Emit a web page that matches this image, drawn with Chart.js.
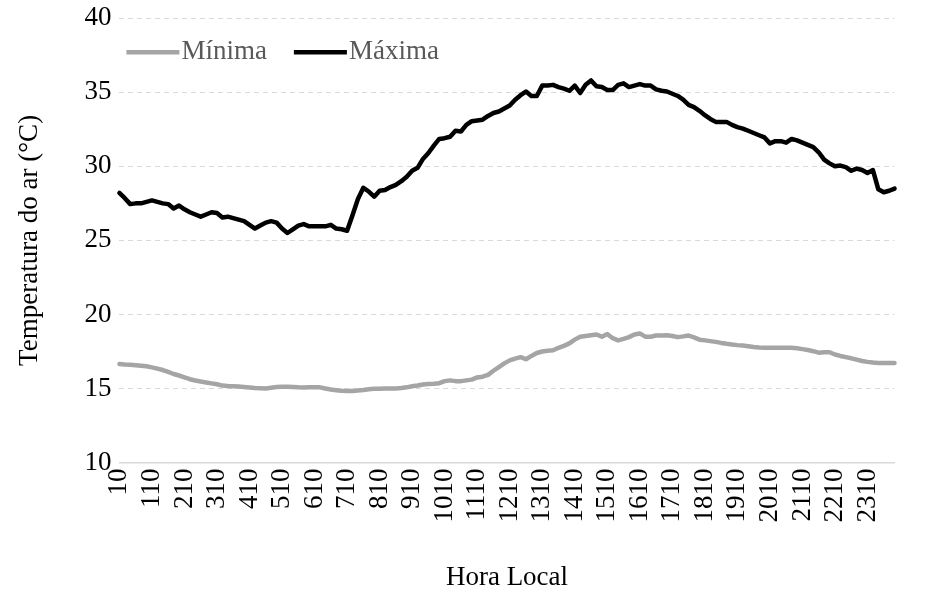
<!DOCTYPE html>
<html>
<head>
<meta charset="utf-8">
<script src="https://cdn.jsdelivr.net/npm/chart.js@4"></script>
<style>
  body { margin: 0; background: #fff; overflow: hidden; }
  #wrap { width: 929px; height: 592px; overflow: hidden; }
  #grafico { display: block; margin-top: -6px; }
</style>
</head>
<body>
<div id="wrap"><canvas id="grafico" width="933" height="598"></canvas></div>
<script>
// horas locais a cada 10 minutos: 10, 20, ..., 50, 100, 110, ... 2400
const horas = [];
for (let h = 0; h < 24; h++) {
    for (let m = 1; m <= 5; m++) horas.push(String(h * 100 + m * 10));
    horas.push(String((h + 1) * 100));
}

const minima = [
    16.65, 16.62, 16.6, 16.57, 16.54, 16.5, 16.43, 16.34, 16.25, 16.12,
    15.98, 15.88, 15.76, 15.63, 15.54, 15.47, 15.41, 15.35, 15.29, 15.2,
    15.17, 15.15, 15.13, 15.1, 15.07, 15.04, 15.02, 15.0, 15.05, 15.1,
    15.12, 15.12, 15.1, 15.08, 15.07, 15.08, 15.09, 15.08, 15.0, 14.93,
    14.88, 14.85, 14.84, 14.84, 14.86, 14.9, 14.95, 14.98, 14.99, 15.0,
    15.0, 15.01, 15.03, 15.08, 15.15, 15.2, 15.27, 15.31, 15.33, 15.36,
    15.5, 15.55, 15.5, 15.5, 15.55, 15.6, 15.75, 15.8, 15.92, 16.2,
    16.45, 16.7, 16.9, 17.02, 17.12, 16.98, 17.2, 17.4, 17.5, 17.55,
    17.58, 17.75, 17.88, 18.05, 18.3, 18.5, 18.55, 18.6, 18.65, 18.5,
    18.68, 18.4, 18.25, 18.35, 18.47, 18.65, 18.72, 18.5, 18.5, 18.58,
    18.58, 18.6, 18.55, 18.47, 18.52, 18.58, 18.45, 18.3, 18.25, 18.2,
    18.15, 18.08, 18.02, 17.97, 17.93, 17.9, 17.85, 17.8, 17.77, 17.75,
    17.75, 17.75, 17.75, 17.75, 17.75, 17.72, 17.66, 17.6, 17.52, 17.42,
    17.45, 17.45, 17.3, 17.2, 17.12, 17.04, 16.95, 16.86, 16.8, 16.76,
    16.73, 16.72, 16.72, 16.72
];

const maxima = [
    28.2, 27.85, 27.45, 27.5, 27.5, 27.6, 27.7, 27.6, 27.5, 27.45,
    27.15, 27.35, 27.1, 26.9, 26.75, 26.6, 26.75, 26.9, 26.85, 26.55,
    26.6, 26.5, 26.4, 26.3, 26.05, 25.8, 26.0, 26.2, 26.3, 26.2,
    25.8, 25.5, 25.75, 26.0, 26.1, 25.95, 25.95, 25.95, 25.95, 26.05,
    25.8, 25.75, 25.65, 26.7, 27.8, 28.55, 28.3, 27.95, 28.35, 28.4,
    28.6, 28.75, 29.0, 29.3, 29.7, 29.9, 30.5, 30.9, 31.4, 31.85,
    31.9, 32.0, 32.4, 32.35, 32.8, 33.05, 33.1, 33.15, 33.4, 33.6,
    33.7, 33.9, 34.1, 34.5, 34.8, 35.05, 34.75, 34.75, 35.45, 35.45,
    35.5, 35.35, 35.25, 35.1, 35.45, 34.95, 35.5, 35.8, 35.4, 35.35,
    35.15, 35.15, 35.5, 35.6, 35.35, 35.45, 35.55, 35.45, 35.45, 35.2,
    35.1, 35.05, 34.9, 34.75, 34.5, 34.15, 34.0, 33.75, 33.45, 33.2,
    33.0, 33.0, 33.0, 32.8, 32.65, 32.55, 32.4, 32.25, 32.1, 31.95,
    31.55, 31.7, 31.7, 31.6, 31.85, 31.75, 31.6, 31.45, 31.3, 30.95,
    30.45, 30.2, 30.0, 30.05, 29.95, 29.7, 29.85, 29.75, 29.55, 29.75,
    28.45, 28.25, 28.35, 28.5
];

const fonte = 'Liberation Serif, Times New Roman, serif';
const tam = 27;

// legenda em linha, dentro da área do gráfico (canto superior esquerdo)
const legendaLinha = {
    id: 'legendaLinha',
    afterDraw(chart) {
        const c = chart.ctx;
        const a = chart.chartArea;
        let x = a.left + 7;
        const y = a.top + 34;
        c.save();
        c.font = tam + 'px ' + fonte;
        c.textBaseline = 'middle';
        chart.data.datasets.forEach(function (ds) {
            c.strokeStyle = ds.borderColor;
            c.lineWidth = ds.borderWidth;
            c.beginPath();
            c.moveTo(x, y);
            c.lineTo(x + 53, y);
            c.stroke();
            x += 55;
            c.fillStyle = '#595959';
            c.fillText(ds.label, x, y);
            x += c.measureText(ds.label).width + 27;
        });
        c.restore();
    }
};

const ctx = document.getElementById('grafico').getContext('2d');
const grafico = new Chart(ctx, {
    type: 'line',
    data: {
        labels: horas,
        datasets: [
            {
                label: 'Mínima',
                data: minima,
                borderColor: '#a5a5a5',
                backgroundColor: '#a5a5a5',
                borderWidth: 4.5,
                pointRadius: 0,
                tension: 0,
                borderJoinStyle: 'round',
                borderCapStyle: 'round'
            },
            {
                label: 'Máxima',
                data: maxima,
                borderColor: '#000000',
                backgroundColor: '#000000',
                borderWidth: 4.5,
                pointRadius: 0,
                tension: 0,
                borderJoinStyle: 'round',
                borderCapStyle: 'round'
            }
        ]
    },
    options: {
        responsive: false,
        animation: false,
        layout: { padding: { left: 14, right: 27, top: 0, bottom: -2 } },
        plugins: {
            legend: { display: false },
            tooltip: { enabled: false }
        },
        scales: {
            x: {
                grid: { display: false, drawTicks: false },
                border: { display: true, color: '#d9d9d9', width: 1.5 },
                ticks: {
                    autoSkip: false,
                    maxRotation: 90,
                    minRotation: 90,
                    padding: 6,
                    color: '#000',
                    font: { family: fonte, size: tam },
                    callback: function (v, i) {
                        return i % 6 === 0 ? horas[i] : '';
                    }
                },
                title: {
                    display: true,
                    text: 'Hora Local',
                    color: '#000',
                    font: { family: fonte, size: tam },
                    padding: { top: 33, bottom: 0 }
                }
            },
            y: {
                min: 10,
                max: 40,
                ticks: {
                    stepSize: 5,
                    padding: 8,
                    color: '#000',
                    font: { family: fonte, size: tam }
                },
                grid: {
                    color: '#d9d9d9',
                    lineWidth: 1,
                    drawTicks: false
                },
                border: { display: false, dash: [5, 4] },
                title: {
                    display: true,
                    text: 'Temperatura do ar (°C)',
                    color: '#000',
                    font: { family: fonte, size: tam },
                    padding: { top: 0, bottom: 30 }
                }
            }
        }
    },
    plugins: [legendaLinha]
});
</script>
</body>
</html>
